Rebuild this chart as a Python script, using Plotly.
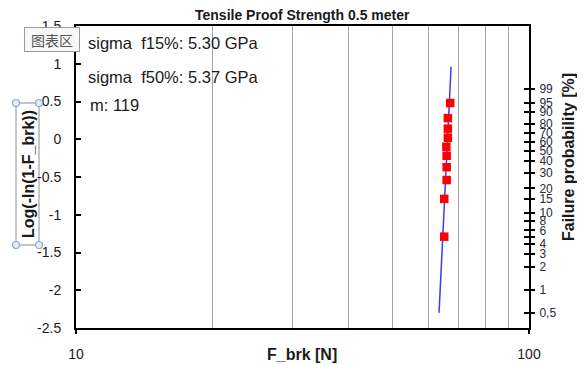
import numpy as np
import plotly.graph_objects as go

# ---------------- data ----------------
title_text = "Tensile Proof Strength 0.5 meter"
x_title = "F_brk [N]"
y_title = "Log(-ln(1-F_brk))"
y2_title = "Failure probability [%]"

# measured break forces [N] and their Weibull plotting positions
f_brk = [65.0, 65.0, 65.8, 65.8, 65.8, 65.7, 66.2, 66.2, 66.2, 67.0]
weib_y = [-1.29, -0.79, -0.54, -0.37, -0.22, -0.10, 0.02, 0.14, 0.28, 0.48]

# fitted Weibull line (end points)
fit_x = [63.3, 67.3]
fit_y = [-2.30, 0.96]

# left axis ticks
y_ticks = [1.5, 1.0, 0.5, 0.0, -0.5, -1.0, -1.5, -2.0, -2.5]
y_ticklabels = ["1.5", "1", "0.5", "0", "-0.5", "-1", "-1.5", "-2", "-2.5"]

# x axis ticks / grid
x_ticks = [10, 100]
x_ticklabels = ["10", "100"]
x_grid = [20, 30, 40, 50, 60, 70, 80, 90]

# right axis: failure probability [%]
prob_ticks = [0.5, 1, 2, 3, 4, 5, 6, 8, 10, 15, 20, 30, 40, 50, 60, 70, 80, 90, 95, 99]
prob_labels = ["0,5", "1", "2", "3", "4", "", "6", "8", "10", "15", "20", "30",
               "40", "50", "60", "70", "80", "90", "95", "99"]

notes = ["sigma\u00a0\u00a0f15%: 5.30 GPa", "sigma\u00a0\u00a0f50%: 5.37 GPa", "m: 119"]

# ---------------- layout geometry (page pixels; page body has an 8px margin) ----------------
OFF = 8
PAGE_W, PAGE_H = 585, 365
W, H = PAGE_W - OFF, PAGE_H - OFF
PL, PR, PT, PB = 76, 529, 26, 328          # plot area on the page
L, R, T, B = PL - OFF, W - (PR - OFF), PT - OFF, H - (PB - OFF)
PW, PH = PR - PL, PB - PT


def px(xp):
    return (xp - PL) / PW


def py(yp):
    return (PB - yp) / PH


# probability -> Weibull ordinate (same scale as left axis)
prob_pos = [float(np.log10(-np.log(1 - p / 100.0))) for p in prob_ticks]

FONT = "Liberation Sans, Arial, sans-serif"
TXT = "#1a1a1a"

fig = go.Figure()

fig.add_trace(go.Scatter(
    x=fit_x, y=fit_y, mode="lines",
    line=dict(color="#3a3aff", width=1.5),
    hoverinfo="skip", showlegend=False))

fig.add_trace(go.Scatter(
    x=f_brk, y=weib_y, mode="markers",
    marker=dict(symbol="square", size=8.5, color="#ff0000", line=dict(width=0)),
    showlegend=False))

# dummy traces so the right-hand axes are drawn
fig.add_trace(go.Scatter(x=[None], y=[None], yaxis="y2", showlegend=False, hoverinfo="skip"))
fig.add_trace(go.Scatter(x=[None], y=[None], yaxis="y3", showlegend=False, hoverinfo="skip"))

fig.update_layout(
    width=W, height=H, autosize=False,
    margin=dict(l=L, r=R, t=T, b=B, pad=0, autoexpand=False),
    paper_bgcolor="white", plot_bgcolor="white",
    font=dict(family=FONT, color=TXT, size=14),
    xaxis=dict(
        type="log", range=[1, 2], automargin=False,
        tickmode="array", tickvals=x_ticks, ticktext=x_ticklabels,
        ticks="outside", ticklen=4, tickwidth=1.5, tickcolor="black",
        ticklabelstandoff=8,
        showgrid=False, zeroline=False,
        showline=True, linewidth=2, linecolor="black", mirror=True,
        tickfont=dict(size=14, family=FONT, color=TXT),
        minor=dict(tickmode="array", tickvals=x_grid, showgrid=True,
                   gridcolor="#a6a6a6", gridwidth=1, ticks=""),
    ),
    yaxis=dict(
        range=[-2.5, 1.5], automargin=False,
        tickmode="array", tickvals=y_ticks, ticktext=y_ticklabels,
        ticks="inside", ticklen=5, tickwidth=1.5, tickcolor="black",
        ticklabelstandoff=10,
        showgrid=False, zeroline=False,
        showline=True, linewidth=2, linecolor="black", mirror=True,
        tickfont=dict(size=14, family=FONT, color=TXT),
    ),
    yaxis2=dict(
        overlaying="y", side="right", anchor="x", automargin=False,
        range=[-2.5, 1.5],
        tickmode="array", tickvals=prob_pos, ticktext=prob_labels,
        ticks="outside", ticklen=5, tickwidth=1.5, tickcolor="black",
        ticklabelstandoff=2,
        showgrid=False, zeroline=False, showline=False,
        tickfont=dict(size=12, family=FONT, color="#2a2a3a"),
    ),
    yaxis3=dict(
        overlaying="y", side="right", anchor="x", automargin=False,
        range=[-2.5, 1.5],
        tickmode="array", tickvals=prob_pos,
        ticks="inside", ticklen=5, tickwidth=1.5, tickcolor="black",
        showticklabels=False,
        showgrid=False, zeroline=False, showline=False,
    ),
)

ann = []
# chart title
ann.append(dict(text="<b>" + title_text + "</b>", x=px(302), y=py(15), xref="paper", yref="paper",
                xanchor="center", yanchor="middle", showarrow=False,
                font=dict(size=14, family=FONT, color=TXT)))
# text notes inside the plot
for txt, yp, xp in zip(notes, [43, 77, 105], [86, 86, 88]):
    ann.append(dict(text=txt, x=px(xp), y=py(yp), xref="paper", yref="paper",
                    xanchor="left", yanchor="middle", showarrow=False,
                    font=dict(size=16.5, family=FONT, color=TXT)))
# axis titles
ann.append(dict(text="<b>" + x_title + "</b>", x=px(302), y=py(354), xref="paper", yref="paper",
                xanchor="center", yanchor="middle", showarrow=False,
                font=dict(size=16, family=FONT, color=TXT)))
ann.append(dict(text="<b>" + y_title + "</b>", x=px(29), y=py(174), xref="paper", yref="paper",
                xanchor="center", yanchor="middle", showarrow=False, textangle=-90,
                font=dict(size=16, family=FONT, color=TXT)))
ann.append(dict(text="<b>" + y2_title + "</b>", x=px(568), y=py(157), xref="paper", yref="paper",
                xanchor="center", yanchor="middle", showarrow=False, textangle=-90,
                font=dict(size=16, family=FONT, color=TXT)))
# Excel tooltip
ann.append(dict(text="图表区", x=px(51.5), y=py(39), xref="paper", yref="paper",
                xanchor="center", yanchor="middle", showarrow=False,
                width=52, height=21, bgcolor="#f7f7f7", bordercolor="#9a9a9a",
                borderwidth=1, borderpad=1,
                font=dict(size=14, family="Noto Sans CJK SC", color="#555555")))
fig.update_layout(annotations=ann)

# selection frame around the left axis title
shapes = [dict(type="rect", xref="paper", yref="paper",
               x0=px(16), x1=px(39), y0=py(245), y1=py(103),
               line=dict(color="#8c8c8c", width=1), fillcolor="rgba(0,0,0,0)", layer="below")]
r = 3.5
for cx in (16, 39):
    for cy in (103, 245):
        shapes.append(dict(type="circle", xref="paper", yref="paper",
                           x0=px(cx - r), x1=px(cx + r), y0=py(cy + r), y1=py(cy - r),
                           line=dict(color="#8eaac6", width=1.2), fillcolor="#e4ecf4"))
fig.update_layout(shapes=shapes)

fig.write_html("out.html")
